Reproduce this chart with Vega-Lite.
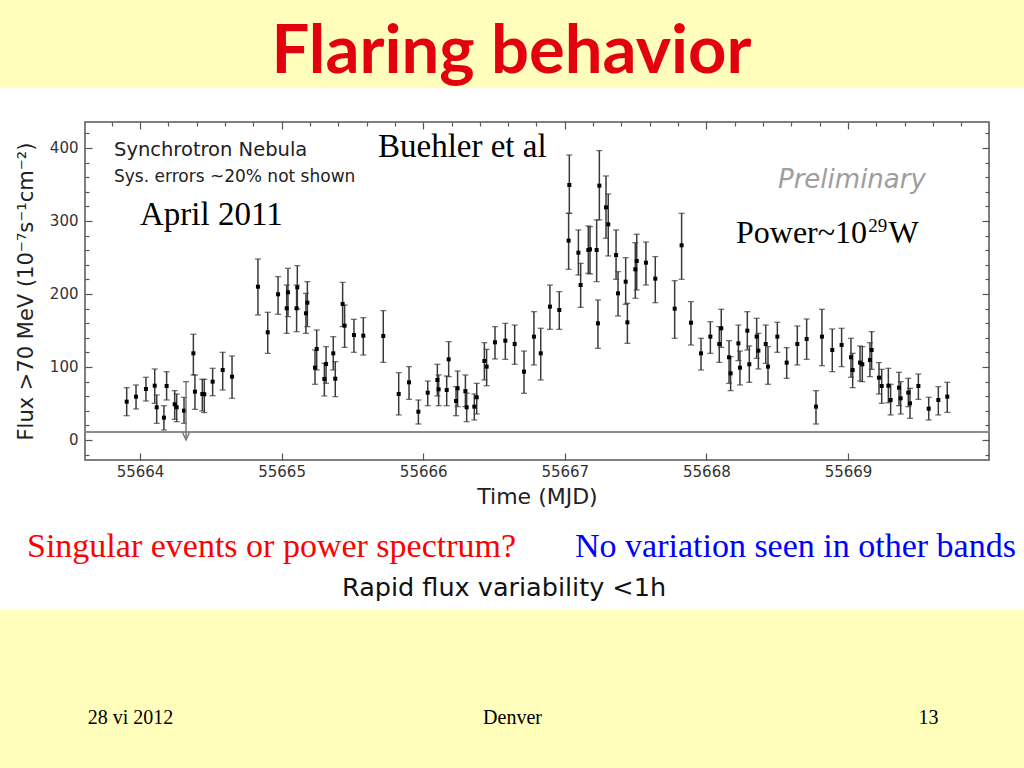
{
  "$schema": "https://vega.github.io/schema/vega-lite/v6.json",
  "width": 904,
  "height": 338,
  "autosize": "none",
  "padding": {"left": 85, "top": 122, "right": 35, "bottom": 308},
  "background": "white",
  "config": {
    "view": {"stroke": "#555555", "strokeWidth": 1.5},
    "axis": {"domain": false, "grid": false, "tickColor": "#555555", "tickWidth": 1.2, "labelFont": "DejaVu Sans", "labelFontSize": 15, "labelColor": "#333333", "titleFont": "DejaVu Sans", "titleFontWeight": "normal", "titleColor": "#222222", "labelOverlap": false, "labelFlush": false}
  },
  "datasets": {
    "lc": [
      {"t":55663.906,"f":52.5,"lo":33.3,"hi":71.7},
      {"t":55663.972,"f":59.4,"lo":42.5,"hi":75.4},
      {"t":55664.042,"f":69.9,"lo":53.4,"hi":85.9},
      {"t":55664.104,"f":74.4,"lo":50.2,"hi":97.3},
      {"t":55664.118,"f":44.8,"lo":22.8,"hi":61.7},
      {"t":55664.169,"f":30.6,"lo":13.7,"hi":47.0},
      {"t":55664.188,"f":74.0,"lo":54.8,"hi":93.6},
      {"t":55664.245,"f":48.9,"lo":28.3,"hi":67.6},
      {"t":55664.259,"f":44.8,"lo":25.1,"hi":63.0},
      {"t":55664.311,"f":40.2,"lo":22.8,"hi":58.4},
      {"t":55664.377,"f":118.7,"lo":89.1,"hi":144.8},
      {"t":55664.388,"f":66.2,"lo":42.0,"hi":89.1},
      {"t":55664.440,"f":63.0,"lo":39.7,"hi":83.1},
      {"t":55664.454,"f":62.6,"lo":37.5,"hi":83.1},
      {"t":55664.513,"f":79.9,"lo":60.7,"hi":98.2},
      {"t":55664.584,"f":95.9,"lo":68.5,"hi":120.1},
      {"t":55664.650,"f":86.8,"lo":57.1,"hi":115.1},
      {"t":55664.833,"f":210.0,"lo":171.2,"hi":248.0},
      {"t":55664.902,"f":147.5,"lo":118.7,"hi":174.9},
      {"t":55664.975,"f":199.6,"lo":172.2,"hi":223.8},
      {"t":55665.036,"f":180.4,"lo":146.1,"hi":212.3},
      {"t":55665.045,"f":202.3,"lo":169.0,"hi":235.2},
      {"t":55665.106,"f":180.4,"lo":148.4,"hi":212.3},
      {"t":55665.111,"f":209.1,"lo":179.5,"hi":238.8},
      {"t":55665.172,"f":173.5,"lo":146.1,"hi":200.9},
      {"t":55665.182,"f":188.1,"lo":155.3,"hi":216.9},
      {"t":55665.236,"f":99.1,"lo":76.3,"hi":123.3},
      {"t":55665.248,"f":124.7,"lo":95.9,"hi":150.7},
      {"t":55665.302,"f":83.6,"lo":60.3,"hi":105.0},
      {"t":55665.314,"f":104.1,"lo":77.6,"hi":127.9},
      {"t":55665.365,"f":118.7,"lo":95.9,"hi":141.6},
      {"t":55665.379,"f":84.0,"lo":59.4,"hi":107.3},
      {"t":55665.431,"f":186.3,"lo":155.3,"hi":216.0},
      {"t":55665.445,"f":156.6,"lo":126.9,"hi":184.9},
      {"t":55665.511,"f":143.8,"lo":120.1,"hi":165.3},
      {"t":55665.577,"f":142.9,"lo":116.4,"hi":167.6},
      {"t":55665.718,"f":142.5,"lo":106.4,"hi":177.2},
      {"t":55665.827,"f":63.0,"lo":34.3,"hi":92.3},
      {"t":55665.900,"f":79.0,"lo":55.7,"hi":100.5},
      {"t":55665.966,"f":38.8,"lo":21.9,"hi":54.8},
      {"t":55666.032,"f":64.8,"lo":47.0,"hi":80.8},
      {"t":55666.100,"f":82.2,"lo":60.3,"hi":103.7},
      {"t":55666.109,"f":69.4,"lo":47.0,"hi":89.1},
      {"t":55666.166,"f":68.5,"lo":47.0,"hi":87.7},
      {"t":55666.180,"f":110.5,"lo":86.8,"hi":134.7},
      {"t":55666.232,"f":53.4,"lo":33.3,"hi":73.1},
      {"t":55666.243,"f":70.8,"lo":45.7,"hi":94.5},
      {"t":55666.298,"f":67.1,"lo":45.7,"hi":89.1},
      {"t":55666.307,"f":44.8,"lo":25.1,"hi":64.0},
      {"t":55666.361,"f":45.7,"lo":27.4,"hi":63.0},
      {"t":55666.378,"f":58.5,"lo":35.6,"hi":77.6},
      {"t":55666.432,"f":108.2,"lo":82.2,"hi":133.3},
      {"t":55666.448,"f":100.5,"lo":74.4,"hi":124.2},
      {"t":55666.507,"f":133.8,"lo":111.0,"hi":155.3},
      {"t":55666.580,"f":136.1,"lo":110.5,"hi":159.8},
      {"t":55666.646,"f":131.5,"lo":103.7,"hi":157.5},
      {"t":55666.712,"f":93.6,"lo":64.0,"hi":121.9},
      {"t":55666.782,"f":141.6,"lo":102.8,"hi":175.8},
      {"t":55666.830,"f":118.7,"lo":82.2,"hi":153.0},
      {"t":55666.895,"f":182.7,"lo":151.6,"hi":212.3},
      {"t":55666.961,"f":178.1,"lo":151.6,"hi":203.2},
      {"t":55667.032,"f":349.3,"lo":310.5,"hi":390.4},
      {"t":55667.027,"f":273.1,"lo":233.8,"hi":310.5},
      {"t":55667.096,"f":256.6,"lo":226.0,"hi":287.7},
      {"t":55667.112,"f":212.3,"lo":181.7,"hi":242.0},
      {"t":55667.166,"f":260.3,"lo":228.3,"hi":293.2},
      {"t":55667.178,"f":261.2,"lo":227.4,"hi":292.2},
      {"t":55667.225,"f":260.3,"lo":216.9,"hi":301.4},
      {"t":55667.234,"f":159.8,"lo":125.6,"hi":191.8},
      {"t":55667.244,"f":348.4,"lo":301.4,"hi":396.4},
      {"t":55667.291,"f":318.7,"lo":276.3,"hi":361.7},
      {"t":55667.307,"f":295.4,"lo":252.1,"hi":337.0},
      {"t":55667.362,"f":253.4,"lo":220.1,"hi":287.7},
      {"t":55667.376,"f":200.9,"lo":169.9,"hi":230.6},
      {"t":55667.430,"f":216.9,"lo":185.9,"hi":249.8},
      {"t":55667.442,"f":161.2,"lo":132.4,"hi":187.2},
      {"t":55667.498,"f":233.8,"lo":194.1,"hi":270.3},
      {"t":55667.508,"f":245.2,"lo":205.5,"hi":281.8},
      {"t":55667.573,"f":242.9,"lo":212.3,"hi":271.2},
      {"t":55667.639,"f":221.0,"lo":188.1,"hi":251.2},
      {"t":55667.776,"f":179.9,"lo":139.3,"hi":218.3},
      {"t":55667.825,"f":266.7,"lo":220.1,"hi":310.5},
      {"t":55667.891,"f":160.7,"lo":130.1,"hi":189.5},
      {"t":55667.962,"f":118.7,"lo":95.9,"hi":139.3},
      {"t":55668.028,"f":141.6,"lo":118.7,"hi":162.1},
      {"t":55668.091,"f":131.5,"lo":106.4,"hi":155.3},
      {"t":55668.105,"f":153.0,"lo":126.9,"hi":179.0},
      {"t":55668.160,"f":113.3,"lo":77.6,"hi":136.1},
      {"t":55668.171,"f":91.3,"lo":67.6,"hi":114.2},
      {"t":55668.226,"f":132.4,"lo":108.7,"hi":157.5},
      {"t":55668.237,"f":99.1,"lo":75.4,"hi":121.9},
      {"t":55668.289,"f":149.8,"lo":123.3,"hi":175.8},
      {"t":55668.303,"f":103.7,"lo":79.0,"hi":128.8},
      {"t":55668.355,"f":141.6,"lo":111.9,"hi":166.7},
      {"t":55668.367,"f":122.4,"lo":97.3,"hi":146.1},
      {"t":55668.419,"f":131.5,"lo":105.0,"hi":157.5},
      {"t":55668.435,"f":100.5,"lo":76.3,"hi":127.9},
      {"t":55668.501,"f":141.6,"lo":120.1,"hi":161.2},
      {"t":55668.567,"f":106.0,"lo":84.5,"hi":126.5},
      {"t":55668.642,"f":131.5,"lo":102.8,"hi":156.2},
      {"t":55668.708,"f":138.4,"lo":110.5,"hi":165.8},
      {"t":55668.774,"f":45.7,"lo":21.9,"hi":67.6},
      {"t":55668.816,"f":141.6,"lo":101.8,"hi":179.0},
      {"t":55668.889,"f":123.3,"lo":93.6,"hi":152.1},
      {"t":55668.955,"f":130.1,"lo":100.5,"hi":153.0},
      {"t":55669.021,"f":113.3,"lo":85.9,"hi":139.3},
      {"t":55669.033,"f":95.9,"lo":71.7,"hi":118.7},
      {"t":55669.085,"f":106.0,"lo":80.8,"hi":128.8},
      {"t":55669.101,"f":103.7,"lo":79.9,"hi":127.9},
      {"t":55669.155,"f":109.6,"lo":86.8,"hi":133.3},
      {"t":55669.167,"f":123.3,"lo":96.8,"hi":148.4},
      {"t":55669.219,"f":85.4,"lo":63.0,"hi":106.0},
      {"t":55669.238,"f":74.0,"lo":50.2,"hi":96.8},
      {"t":55669.285,"f":74.4,"lo":51.1,"hi":98.2},
      {"t":55669.301,"f":54.8,"lo":34.3,"hi":76.3},
      {"t":55669.360,"f":71.7,"lo":47.0,"hi":92.7},
      {"t":55669.372,"f":57.1,"lo":35.6,"hi":79.9},
      {"t":55669.426,"f":64.8,"lo":45.7,"hi":84.5},
      {"t":55669.438,"f":50.2,"lo":29.7,"hi":70.8},
      {"t":55669.497,"f":74.0,"lo":55.7,"hi":90.4},
      {"t":55669.570,"f":42.9,"lo":27.4,"hi":58.5},
      {"t":55669.638,"f":54.8,"lo":34.3,"hi":73.1},
      {"t":55669.701,"f":59.4,"lo":37.9,"hi":79.0}
    ],
    "ul": [{"t": 55664.325, "hi": 79.9, "lo": 0}],
    "one": [{}]
  },
  "resolve": {"axis": {"x": "independent", "y": "independent"}},
  "layer": [
    {
      "data": {"name": "one"},
      "mark": {"type": "rect", "color": "#FFFFBB"},
      "encoding": {
        "x": {"datum": 55662.9, "type": "quantitative", "scale": {"domain": [55663.6116, 55669.9958], "nice": false, "zero": false}, "axis": null},
        "x2": {"datum": 55670.4},
        "y": {"datum": 482.2, "type": "quantitative", "scale": {"domain": [-27.4, 435.6], "nice": false, "zero": false}, "axis": null},
        "y2": {"datum": 700}
      }
    },
    {
      "data": {"name": "one"},
      "mark": {"type": "rect", "color": "#FFFFBB"},
      "encoding": {
        "x": {"datum": 55662.9, "type": "quantitative", "scale": {"domain": [55663.6116, 55669.9958], "nice": false, "zero": false}, "axis": null},
        "x2": {"datum": 55670.4},
        "y": {"datum": -232.9, "type": "quantitative", "scale": {"domain": [-27.4, 435.6], "nice": false, "zero": false}, "axis": null},
        "y2": {"datum": -470}
      }
    },
    {
      "data": {"name": "one"},
      "mark": {"type": "rule", "color": "#8c8c8c", "strokeWidth": 2},
      "encoding": {
        "y": {"datum": 11, "type": "quantitative", "scale": {"domain": [-27.4, 435.6], "nice": false, "zero": false}, "axis": null}
      }
    },
    {
      "data": {"name": "lc"},
      "mark": {"type": "rule", "color": "#3a3a3a", "strokeWidth": 1.5},
      "encoding": {
        "x": {"field": "t", "type": "quantitative", "scale": {"domain": [55663.6116, 55669.9958], "nice": false, "zero": false},
          "axis": {"orient": "bottom", "title": "Time (MJD)", "titleFontSize": 22, "titlePadding": 7, "format": "d", "labelOverlap": false, "labelFlush": false, "tickCount": 32,
            "labelExpr": "datum.value % 1 === 0 ? datum.label : ''",
            "tickSize": {"condition": {"test": "datum.value % 1 === 0", "value": -7}, "value": -4},
            "labelPadding": 11}},
        "y": {"field": "lo", "type": "quantitative", "scale": {"domain": [-27.4, 435.6], "nice": false, "zero": false},
          "axis": {"orient": "left", "title": "Flux >70 MeV (10⁻⁷s⁻¹cm⁻²)", "titleFontSize": 21, "titlePadding": 13, "labelOverlap": false, "labelFlush": false, "tickCount": 23,
            "labelExpr": "datum.value % 100 === 0 ? datum.label : ''",
            "tickSize": {"condition": {"test": "datum.value % 100 === 0", "value": -7}, "value": -4},
            "labelPadding": 14}},
        "y2": {"field": "hi"}
      }
    },
    {
      "data": {"name": "lc"},
      "mark": {"type": "tick", "orient": "horizontal", "size": 6, "thickness": 1.3, "color": "#3a3a3a"},
      "encoding": {
        "x": {"field": "t", "type": "quantitative", "scale": {"domain": [55663.6116, 55669.9958], "nice": false, "zero": false}, "axis": null},
        "y": {"field": "hi", "type": "quantitative", "scale": {"domain": [-27.4, 435.6], "nice": false, "zero": false}, "axis": null}
      }
    },
    {
      "data": {"name": "lc"},
      "mark": {"type": "tick", "orient": "horizontal", "size": 6, "thickness": 1.3, "color": "#3a3a3a"},
      "encoding": {
        "x": {"field": "t", "type": "quantitative", "scale": {"domain": [55663.6116, 55669.9958], "nice": false, "zero": false}, "axis": null},
        "y": {"field": "lo", "type": "quantitative", "scale": {"domain": [-27.4, 435.6], "nice": false, "zero": false}, "axis": null}
      }
    },
    {
      "data": {"name": "lc"},
      "mark": {"type": "point", "shape": "square", "filled": true, "size": 16, "color": "#000000", "opacity": 1},
      "encoding": {
        "x": {"field": "t", "type": "quantitative", "scale": {"domain": [55663.6116, 55669.9958], "nice": false, "zero": false},
          "axis": {"orient": "top", "title": null, "labels": false, "labelOverlap": false, "tickCount": 32,
            "tickSize": {"condition": {"test": "datum.value % 1 === 0", "value": -7}, "value": -4}}},
        "y": {"field": "f", "type": "quantitative", "scale": {"domain": [-27.4, 435.6], "nice": false, "zero": false},
          "axis": {"orient": "right", "title": null, "labels": false, "labelOverlap": false, "tickCount": 23,
            "tickSize": {"condition": {"test": "datum.value % 100 === 0", "value": -7}, "value": -4}}}
      }
    },
    {
      "data": {"name": "ul"},
      "mark": {"type": "rule", "color": "#7a7a7a", "strokeWidth": 1.5},
      "encoding": {
        "x": {"field": "t", "type": "quantitative", "scale": {"domain": [55663.6116, 55669.9958], "nice": false, "zero": false}, "axis": null},
        "y": {"field": "lo", "type": "quantitative", "scale": {"domain": [-27.4, 435.6], "nice": false, "zero": false}, "axis": null},
        "y2": {"field": "hi"}
      }
    },
    {
      "data": {"name": "ul"},
      "mark": {"type": "tick", "orient": "horizontal", "size": 6, "thickness": 1.3, "color": "#3a3a3a"},
      "encoding": {
        "x": {"field": "t", "type": "quantitative", "scale": {"domain": [55663.6116, 55669.9958], "nice": false, "zero": false}, "axis": null},
        "y": {"field": "hi", "type": "quantitative", "scale": {"domain": [-27.4, 435.6], "nice": false, "zero": false}, "axis": null}
      }
    },
    {
      "data": {"name": "ul"},
      "mark": {"type": "point", "shape": "M-0.9,-1L0,1L0.9,-1", "filled": false, "size": 64, "stroke": "#7a7a7a", "strokeWidth": 1.5, "opacity": 1, "yOffset": -4},
      "encoding": {
        "x": {"field": "t", "type": "quantitative", "scale": {"domain": [55663.6116, 55669.9958], "nice": false, "zero": false}, "axis": null},
        "y": {"field": "lo", "type": "quantitative", "scale": {"domain": [-27.4, 435.6], "nice": false, "zero": false}, "axis": null}
      }
    },
    {
      "data": {"name": "one"},
      "mark": {"type": "text", "text": "Flaring behavior", "font": "Lato", "fontWeight": "bold", "fontSize": 67, "color": "#E3000F", "align": "center", "baseline": "alphabetic"},
      "encoding": {
        "x": {"datum": 55666.6236, "type": "quantitative", "scale": {"domain": [55663.6116, 55669.9958], "nice": false, "zero": false}, "axis": null},
        "y": {"datum": 502.7, "type": "quantitative", "scale": {"domain": [-27.4, 435.6], "nice": false, "zero": false}, "axis": null}
      }
    },
    {
      "data": {"name": "one"},
      "mark": {"type": "text", "text": "Synchrotron Nebula", "font": "DejaVu Sans", "fontSize": 19.5, "color": "#222222", "align": "left", "baseline": "alphabetic"},
      "encoding": {
        "x": {"datum": 55663.8164, "type": "quantitative", "scale": {"domain": [55663.6116, 55669.9958], "nice": false, "zero": false}, "axis": null},
        "y": {"datum": 388.4, "type": "quantitative", "scale": {"domain": [-27.4, 435.6], "nice": false, "zero": false}, "axis": null}
      }
    },
    {
      "data": {"name": "one"},
      "mark": {"type": "text", "text": "Sys. errors ~20% not shown", "font": "DejaVu Sans", "fontSize": 17, "color": "#222222", "align": "left", "baseline": "alphabetic"},
      "encoding": {
        "x": {"datum": 55663.8164, "type": "quantitative", "scale": {"domain": [55663.6116, 55669.9958], "nice": false, "zero": false}, "axis": null},
        "y": {"datum": 353.4, "type": "quantitative", "scale": {"domain": [-27.4, 435.6], "nice": false, "zero": false}, "axis": null}
      }
    },
    {
      "data": {"name": "one"},
      "mark": {"type": "text", "text": "April 2011", "font": "Liberation Serif", "fontSize": 33, "color": "#000000", "align": "left", "baseline": "alphabetic"},
      "encoding": {
        "x": {"datum": 55664.0, "type": "quantitative", "scale": {"domain": [55663.6116, 55669.9958], "nice": false, "zero": false}, "axis": null},
        "y": {"datum": 294.5, "type": "quantitative", "scale": {"domain": [-27.4, 435.6], "nice": false, "zero": false}, "axis": null}
      }
    },
    {
      "data": {"name": "one"},
      "mark": {"type": "text", "text": "Buehler et al", "font": "Liberation Serif", "fontSize": 33, "color": "#000000", "align": "left", "baseline": "alphabetic"},
      "encoding": {
        "x": {"datum": 55665.6808, "type": "quantitative", "scale": {"domain": [55663.6116, 55669.9958], "nice": false, "zero": false}, "axis": null},
        "y": {"datum": 388.1, "type": "quantitative", "scale": {"domain": [-27.4, 435.6], "nice": false, "zero": false}, "axis": null}
      }
    },
    {
      "data": {"name": "one"},
      "mark": {"type": "text", "text": "Preliminary", "font": "DejaVu Sans", "fontStyle": "italic", "fontSize": 26, "color": "#9e9e9e", "align": "left", "baseline": "alphabetic"},
      "encoding": {
        "x": {"datum": 55668.5056, "type": "quantitative", "scale": {"domain": [55663.6116, 55669.9958], "nice": false, "zero": false}, "axis": null},
        "y": {"datum": 345.2, "type": "quantitative", "scale": {"domain": [-27.4, 435.6], "nice": false, "zero": false}, "axis": null}
      }
    },
    {
      "data": {"name": "one"},
      "mark": {"type": "text", "text": "Power~10", "font": "Liberation Serif", "fontSize": 32, "color": "#000000", "align": "left", "baseline": "alphabetic"},
      "encoding": {
        "x": {"datum": 55668.209, "type": "quantitative", "scale": {"domain": [55663.6116, 55669.9958], "nice": false, "zero": false}, "axis": null},
        "y": {"datum": 270.3, "type": "quantitative", "scale": {"domain": [-27.4, 435.6], "nice": false, "zero": false}, "axis": null}
      }
    },
    {
      "data": {"name": "one"},
      "mark": {"type": "text", "text": "29", "font": "Liberation Serif", "fontSize": 19, "color": "#000000", "align": "left", "baseline": "alphabetic"},
      "encoding": {
        "x": {"datum": 55669.143, "type": "quantitative", "scale": {"domain": [55663.6116, 55669.9958], "nice": false, "zero": false}, "axis": null},
        "y": {"datum": 284.5, "type": "quantitative", "scale": {"domain": [-27.4, 435.6], "nice": false, "zero": false}, "axis": null}
      }
    },
    {
      "data": {"name": "one"},
      "mark": {"type": "text", "text": "W", "font": "Liberation Serif", "fontSize": 32, "color": "#000000", "align": "left", "baseline": "alphabetic"},
      "encoding": {
        "x": {"datum": 55669.2853, "type": "quantitative", "scale": {"domain": [55663.6116, 55669.9958], "nice": false, "zero": false}, "axis": null},
        "y": {"datum": 270.3, "type": "quantitative", "scale": {"domain": [-27.4, 435.6], "nice": false, "zero": false}, "axis": null}
      }
    },
    {
      "data": {"name": "one"},
      "mark": {"type": "text", "text": "Singular events or power spectrum?", "font": "Liberation Serif", "fontSize": 34, "color": "#FF0000", "align": "left", "baseline": "alphabetic"},
      "encoding": {
        "x": {"datum": 55663.202, "type": "quantitative", "scale": {"domain": [55663.6116, 55669.9958], "nice": false, "zero": false}, "axis": null},
        "y": {"datum": -160.3, "type": "quantitative", "scale": {"domain": [-27.4, 435.6], "nice": false, "zero": false}, "axis": null}
      }
    },
    {
      "data": {"name": "one"},
      "mark": {"type": "text", "text": "No variation seen in other bands", "font": "Liberation Serif", "fontSize": 34, "color": "#0000FF", "align": "left", "baseline": "alphabetic"},
      "encoding": {
        "x": {"datum": 55667.072, "type": "quantitative", "scale": {"domain": [55663.6116, 55669.9958], "nice": false, "zero": false}, "axis": null},
        "y": {"datum": -160.3, "type": "quantitative", "scale": {"domain": [-27.4, 435.6], "nice": false, "zero": false}, "axis": null}
      }
    },
    {
      "data": {"name": "one"},
      "mark": {"type": "text", "text": "Rapid flux variability <1h", "font": "DejaVu Sans", "fontSize": 25.5, "color": "#111111", "align": "center", "baseline": "alphabetic"},
      "encoding": {
        "x": {"datum": 55666.571, "type": "quantitative", "scale": {"domain": [55663.6116, 55669.9958], "nice": false, "zero": false}, "axis": null},
        "y": {"datum": -213.7, "type": "quantitative", "scale": {"domain": [-27.4, 435.6], "nice": false, "zero": false}, "axis": null}
      }
    },
    {
      "data": {"name": "one"},
      "mark": {"type": "text", "text": "28 vi 2012", "font": "Liberation Serif", "fontSize": 20, "color": "#000000", "align": "center", "baseline": "alphabetic"},
      "encoding": {
        "x": {"datum": 55663.933, "type": "quantitative", "scale": {"domain": [55663.6116, 55669.9958], "nice": false, "zero": false}, "axis": null},
        "y": {"datum": -389, "type": "quantitative", "scale": {"domain": [-27.4, 435.6], "nice": false, "zero": false}, "axis": null}
      }
    },
    {
      "data": {"name": "one"},
      "mark": {"type": "text", "text": "Denver", "font": "Liberation Serif", "fontSize": 20, "color": "#000000", "align": "center", "baseline": "alphabetic"},
      "encoding": {
        "x": {"datum": 55666.631, "type": "quantitative", "scale": {"domain": [55663.6116, 55669.9958], "nice": false, "zero": false}, "axis": null},
        "y": {"datum": -389, "type": "quantitative", "scale": {"domain": [-27.4, 435.6], "nice": false, "zero": false}, "axis": null}
      }
    },
    {
      "data": {"name": "one"},
      "mark": {"type": "text", "text": "13", "font": "Liberation Serif", "fontSize": 20, "color": "#000000", "align": "center", "baseline": "alphabetic"},
      "encoding": {
        "x": {"datum": 55669.568, "type": "quantitative", "scale": {"domain": [55663.6116, 55669.9958], "nice": false, "zero": false}, "axis": null},
        "y": {"datum": -389, "type": "quantitative", "scale": {"domain": [-27.4, 435.6], "nice": false, "zero": false}, "axis": null}
      }
    }
  ]
}
